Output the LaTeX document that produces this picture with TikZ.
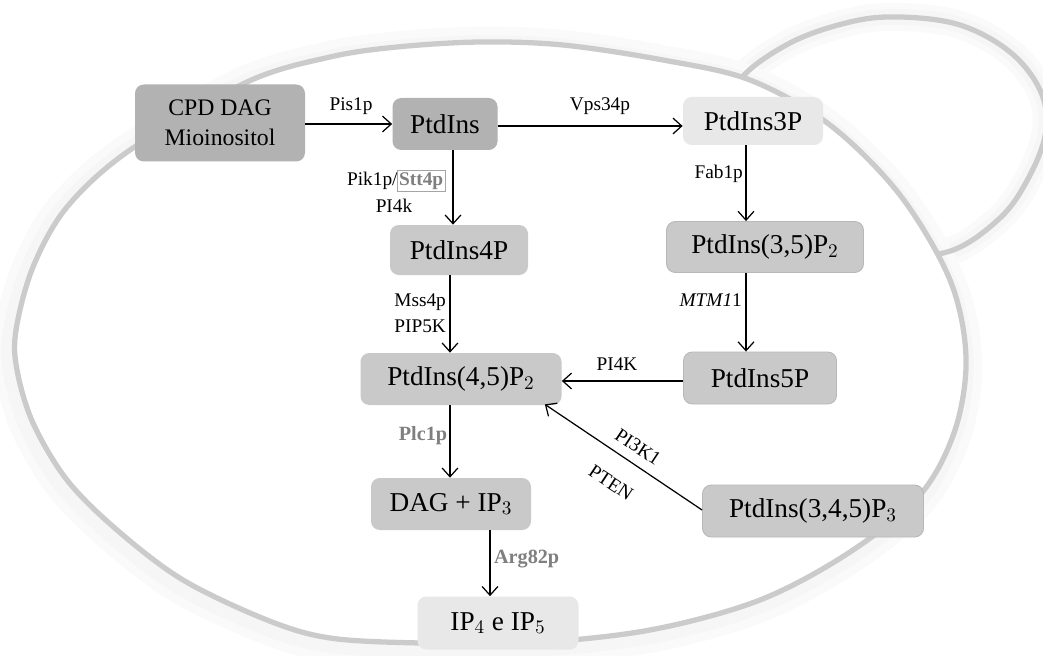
\documentclass[tikz,border=0pt]{standalone}
\usepackage{fontspec}
\setmainfont{Liberation Serif}
\newfontfamily\tnr{Liberation Serif}
\usetikzlibrary{arrows.meta,calc}
\definecolor{darkbox}{HTML}{B2B2B2}
\definecolor{midbox}{HTML}{C9C9C9}
\definecolor{lightbox}{HTML}{E8E8E8}
\definecolor{midedge}{HTML}{B8B8B8}
\definecolor{cellline}{HTML}{CBCBCB}
\definecolor{enzgray}{HTML}{7F7F7F}
\tikzset{
  box/.style={rounded corners=5pt, inner sep=0pt, font=\tnr\fontsize{15.5}{17}\selectfont, align=center},
  dbox/.style={box, fill=darkbox},
  mbox/.style={box, fill=midbox},
  mboxe/.style={box, fill=midbox, draw=midedge, line width=0.5pt},
  lbox/.style={box, fill=lightbox},
  arr/.style={-{Straight Barb[length=5pt,width=9pt]}, line width=0.7pt},
  lab/.style={inner sep=1pt, font=\tnr\fontsize{11}{13}\selectfont},
  blab/.style={lab, font=\tnr\fontsize{11.5}{13}\selectfont\bfseries, text=enzgray},
}
\def\budpath{plot[smooth cycle, tension=0.6] coordinates {(740,80) (790,43) (850,22) (900,17) (960,25) (1010,52) (1040,90) (1046,130) (1030,175) (1000,218) (947,252) (880,250) (790,190) (735,120)}}
\def\cellpath{plot[smooth cycle, tension=0.55] coordinates {(480,42) (563,45) (663,60) (750,80) (830,125) (900,195) (950,280) (966,357) (955,430) (920,495) (850,552) (760,600) (650,630) (530,643) (420,643) (330,638) (267,620) (183,580) (117,530) (67,480) (33,423) (17,370) (16,330) (33,267) (67,207) (130,150) (247,82) (330,57) (397,47)}}
\begin{document}
\begin{tikzpicture}[x=0.02cm,y=-0.02cm]
\useasboundingbox (0,0) rectangle (1043,655);
% glow / shadow
\draw[line width=16, color=black!2] \budpath;
\draw[line width=9, color=black!3.5] \budpath;
\begin{scope}[shift={(-3,4)}]
\draw[line width=22, color=black!2] \cellpath;
\draw[line width=12, color=black!3.5] \cellpath;
\end{scope}
% bud
\draw[line width=3, color=cellline] \budpath;
% mother cell
\draw[line width=3, color=cellline, fill=white] \cellpath;

% nodes
\node[dbox, minimum width={170*0.02cm}, minimum height={77*0.02cm}, font=\tnr\fontsize{13.5}{17}\selectfont] (cpd) at (220,123) {CPD DAG\\Mioinositol};
\node[dbox, minimum width={105*0.02cm}, minimum height={52*0.02cm}] (ptd) at (445,124) {PtdIns};
\node[lbox, minimum width={140*0.02cm}, minimum height={48*0.02cm}] (p3) at (753,121) {PtdIns3P};
\node[mbox, minimum width={138*0.02cm}, minimum height={50*0.02cm}] (p4) at (459,250) {PtdIns4P};
\node[mboxe, minimum width={197*0.02cm}, minimum height={51*0.02cm}] (p35) at (765,247) {PtdIns(3,5)P$_2$};
\node[mbox, minimum width={201*0.02cm}, minimum height={52*0.02cm}] (p45) at (461,379) {PtdIns(4,5)P$_2$};
\node[mboxe, minimum width={153*0.02cm}, minimum height={52*0.02cm}] (p5) at (760,378) {PtdIns5P};
\node[mbox, minimum width={160*0.02cm}, minimum height={52*0.02cm}] (dag) at (451,504) {DAG + IP$_3$};
\node[mboxe, minimum width={221*0.02cm}, minimum height={52*0.02cm}] (p345) at (813,511) {PtdIns(3,4,5)P$_3$};
\node[lbox, minimum width={161*0.02cm}, minimum height={53*0.02cm}] (ip) at (498,623) {IP$_4$ e IP$_5$};

% arrows
\draw[arr] (cpd.east |- ptd) -- (ptd.west);
\draw[arr] ($(ptd.east)+(0,2)$) -- ($(p3.west)+(0,5)$);
\draw[arr] ($(ptd.south)+(8,0)$) -- ($(p4.north)+(-6,0)$);
\draw[arr] ($(p3.south)+(-7,0)$) -- ($(p35.north)+(-19,0)$);
\draw[arr] ($(p4.south)+(-9,0)$) -- ($(p45.north)+(-11,0)$);
\draw[arr] ($(p35.south)+(-19,0)$) -- ($(p5.north)+(-14,0)$);
\draw[arr] ($(p5.west)+(0,3)$) -- ($(p45.east)+(0,2)$);
\draw[arr] ($(p45.south)+(-11,0)$) -- ($(dag.north)+(-1,0)$);
\draw[arr] ($(dag.south)+(39,0)$) -- ($(ip.north)+(-8,0)$);
\draw[arr] ($(p345.west)+(0,-1)$) -- ($(p45.south east)+(-17,-1)$);

% labels
\node[lab] (lpis) at (351,106) {Pis1p};
\node[lab] (lvps) at (600,106) {Vps34p};
\node[lab, anchor=east, inner sep=0pt] (lpik) at (446,181) {Pik1p/\kern-0.5pt{\fboxsep=1pt\fboxrule=0.4pt\fcolorbox{enzgray!70}{white}{\textcolor{enzgray}{\bfseries Stt4p}}}};
\node[lab] (lpi4k) at (394,206) {PI4k};
\node[lab, anchor=east] (lfab) at (745,174) {Fab1p};
\node[lab, anchor=east] (lmss) at (448,302) {Mss4p};
\node[lab, anchor=east] (lpip) at (448,326) {PIP5K};
\node[lab, anchor=east] (lmtm) at (744,300) {\textit{MTM1}1};
\node[lab] (lpi4K) at (617,364) {PI4K};
\node[lab, rotate=-33.6, inner sep=0pt] (lpi3) at (638,447) {PI3K1};
\node[lab, rotate=-33.6, inner sep=0pt] (lpten) at (611,483) {PTEN};
\node[blab] (lplc) at (423,436) {Plc1p};
\node[blab, anchor=west] (larg) at (492,559) {Arg82p};
\end{tikzpicture}
\end{document}
